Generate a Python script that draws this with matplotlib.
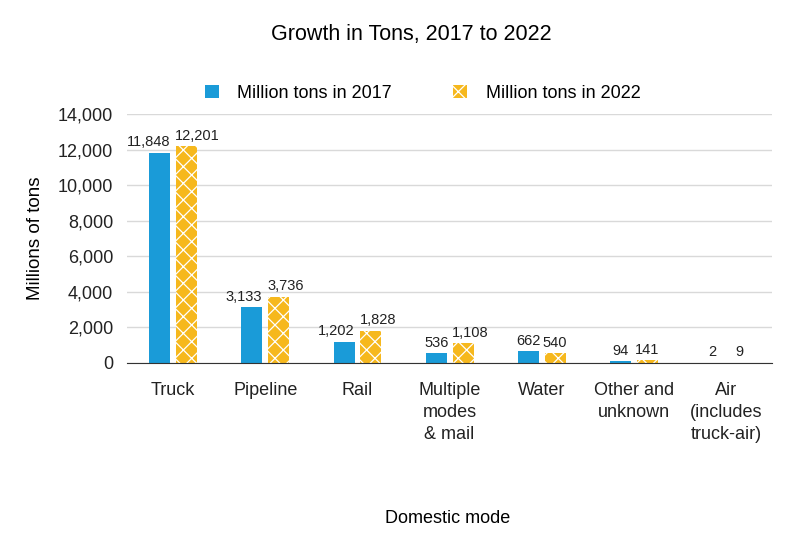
import numpy as np
import matplotlib
matplotlib.use("Agg")
import matplotlib.pyplot as plt

plt.rcParams['font.family'] = ['Liberation Sans', 'DejaVu Sans']
plt.rcParams['hatch.color'] = 'white'
plt.rcParams['hatch.linewidth'] = 0.9

# ---------- data ----------
categories = ["Truck", "Pipeline", "Rail", "Multiple\nmodes\n& mail", "Water",
              "Other and\nunknown", "Air\n(includes\ntruck-air)"]
tons_2017 = [11848, 3133, 1202, 536, 662, 94, 2]
tons_2022 = [12201, 3736, 1828, 1108, 540, 141, 9]
series_names = ["Million tons in 2017", "Million tons in 2022"]

BLUE = "#1a9bd8"
YELLOW = "#f6b81d"

fig = plt.figure(figsize=(8, 5.55), dpi=100)
ax = fig.add_axes([0.159, 0.346, 0.806, 0.448])

x = np.arange(len(categories))
w = 0.228
off = 0.146
b1 = ax.bar(x - off, tons_2017, width=w, color=BLUE, label=series_names[0], zorder=3)
b2 = ax.bar(x + off, tons_2022, width=w, color=YELLOW, hatch='xx', edgecolor='white',
            linewidth=0, label=series_names[1], zorder=3)

# labels: wide numbers sit flush with the outer bar edge so the pair doesn't collide
for r, v in zip(b1, tons_2017):
    if v >= 1000:
        xx, ha = r.get_x() + r.get_width(), 'right'
    else:
        xx, ha = r.get_x() + r.get_width() / 2, 'center'
    ax.text(xx, v + 200, f"{v:,}", ha=ha, va='bottom', fontsize=10.5, color='#222222')
for r, v in zip(b2, tons_2022):
    if v >= 1000:
        xx, ha = r.get_x() - 1 / 92, 'left'
    else:
        xx, ha = r.get_x() + r.get_width() / 2, 'center'
    ax.text(xx, v + 200, f"{v:,}", ha=ha, va='bottom', fontsize=10.5, color='#222222')

ax.set_ylim(0, 14000)
ax.set_xlim(-0.5, len(categories) - 0.5)
ax.set_yticks(np.arange(0, 14001, 2000))
ax.set_yticklabels([f"{v:,}" for v in range(0, 14001, 2000)])
ax.set_xticks(x)
ax.set_xticklabels(categories, linespacing=1.35)
ax.tick_params(axis='both', length=0, labelsize=13, colors='#222222')
ax.tick_params(axis='x', pad=14)
ax.tick_params(axis='y', pad=10)
ax.grid(axis='y', color='#d9d9d9', linewidth=1, zorder=0)
for s in ('top', 'right', 'left'):
    ax.spines[s].set_visible(False)
ax.spines['bottom'].set_color('#333333')
ax.spines['bottom'].set_zorder(4)

ax.set_ylabel("Millions of tons", fontsize=13.5, labelpad=10)
fig.text(0.559, 0.058, "Domestic mode", ha='center', fontsize=13)
fig.text(0.514, 0.928, "Growth in Tons, 2017 to 2022", ha='center', fontsize=15.5)

fig.legend(loc='center', bbox_to_anchor=(0.528, 0.832), ncol=2, frameon=False,
           fontsize=13, handlelength=0.8, handleheight=0.8, columnspacing=3.4, handletextpad=1.0)

fig.savefig("out.png", dpi=100)
